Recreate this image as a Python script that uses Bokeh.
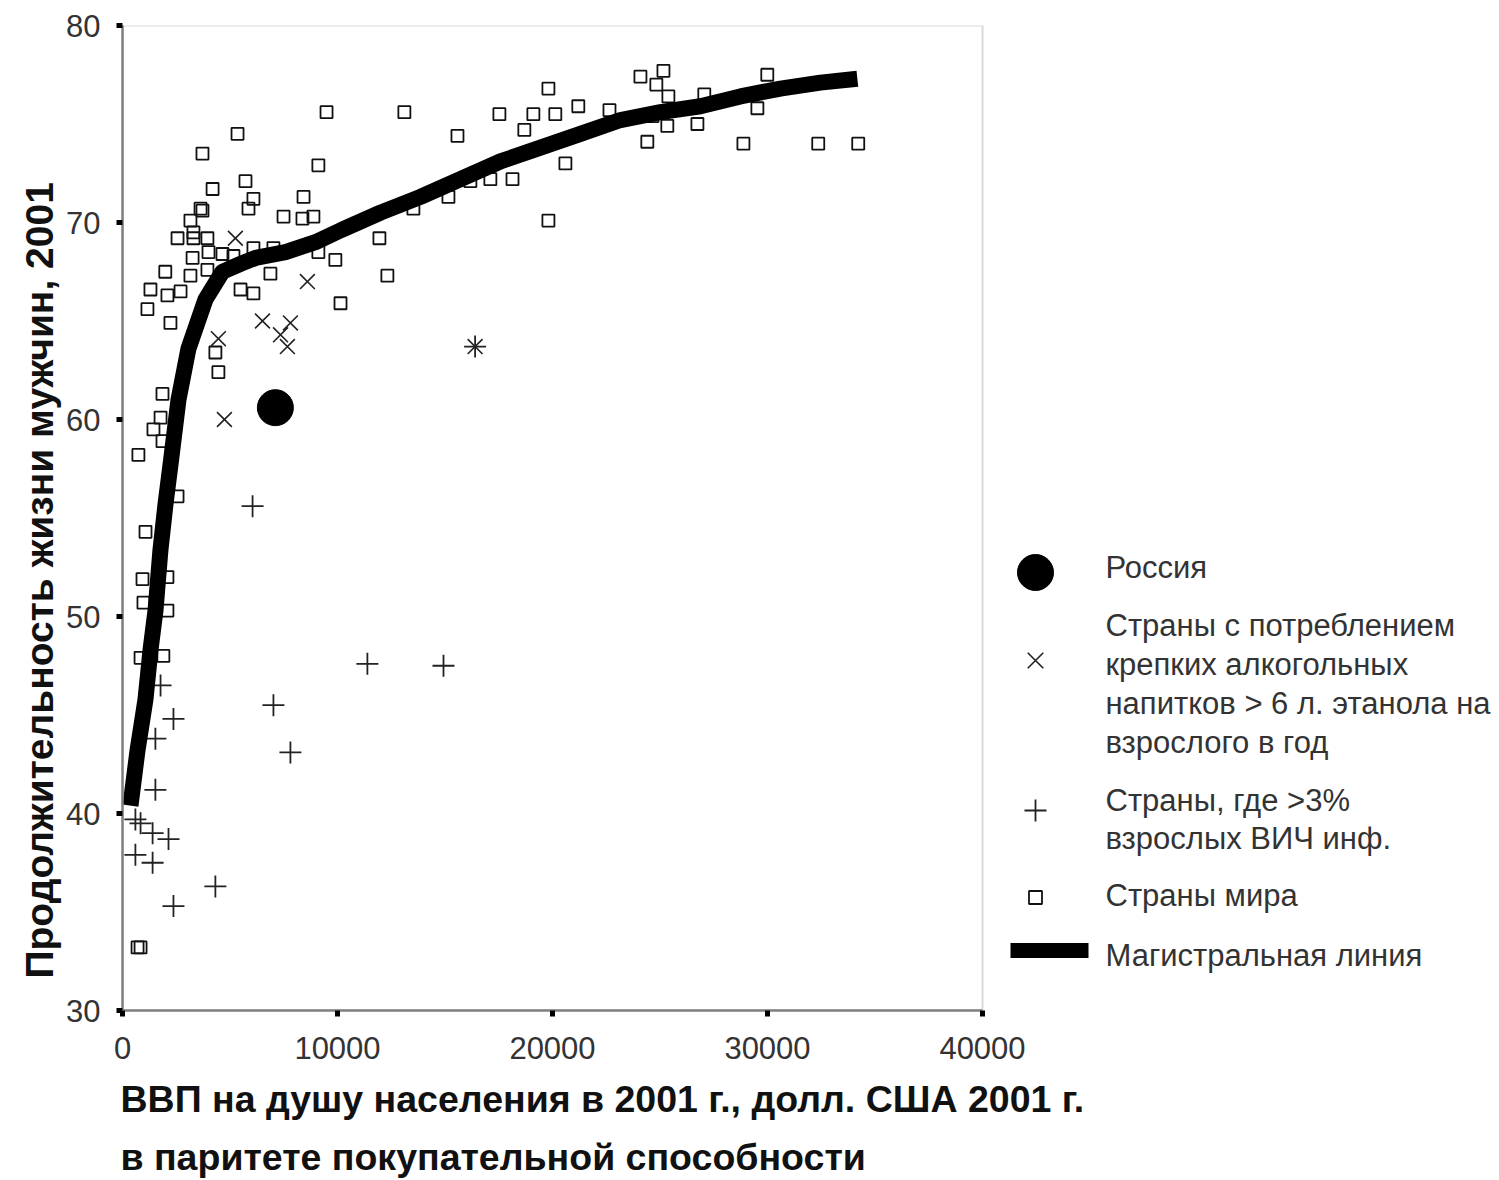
from bokeh.plotting import figure
from bokeh.models import Range1d, FixedTicker, NumeralTickFormatter, Title, BoxAnnotation
from bokeh.embed import file_html
from bokeh.resources import INLINE
from bokeh.core.properties import value

FONT = "Liberation Sans"

# ---- data (GDP per capita PPP, male life expectancy) ----
world_points = [
    (700, 33.2), (840, 33.2), (840, 47.9), (1900, 48.0), (975, 50.7), (930, 51.9),
    (2090, 52.0), (2090, 50.3), (1070, 54.3), (2560, 56.1), (740, 58.2), (1440, 59.5),
    (1770, 60.1), (1860, 61.3), (1860, 58.9), (1160, 65.6), (1300, 66.6), (2230, 64.9),
    (2090, 66.3), (2700, 66.5), (1990, 67.5), (3160, 67.3), (3950, 67.6), (2560, 69.2),
    (3300, 69.2), (3950, 69.2), (3720, 70.6), (3160, 70.1), (3720, 73.5), (4190, 71.7),
    (5350, 74.5), (5720, 72.1), (6090, 71.2), (5860, 70.7), (5490, 66.6), (6090, 66.4),
    (6090, 68.7), (7020, 68.7), (6880, 67.4), (7490, 70.3), (8370, 70.2), (8880, 70.3),
    (8420, 71.3), (9110, 68.5), (9110, 72.9), (9490, 75.6), (9900, 68.1), (10140, 65.9),
    (4320, 63.4), (4460, 62.4), (11950, 69.2), (12320, 67.3), (13530, 70.7), (13110, 75.6),
    (15160, 71.3), (15580, 74.4), (16180, 72.1), (17110, 72.2), (18140, 72.2), (17530, 75.5),
    (18690, 74.7), (19110, 75.5), (20130, 75.5), (19810, 76.8), (19810, 70.1), (20600, 73.0),
    (21200, 75.9), (22650, 75.7), (24090, 77.4), (25160, 77.7), (24830, 77.0), (25390, 76.4),
    (24180, 75.4), (24650, 75.4), (25340, 74.9), (24410, 74.1), (26740, 75.0), (27060, 76.5),
    (28880, 74.0), (29530, 75.8), (29990, 77.5), (32360, 74.0), (34220, 74.0), (4650, 68.4),
    (5160, 68.3), (3300, 69.5), (3630, 70.7), (4000, 68.5), (3260, 68.2),
]
alcohol_points = [
    (5250, 69.2), (8600, 67.0), (4460, 64.1), (6510, 65.0), (7810, 64.9),
    (7350, 64.3), (7670, 63.7), (4740, 60.0), (16400, 63.7),
]
hiv_points = [
    (16400, 63.7), (6050, 55.6), (11390, 47.6), (14930, 47.5), (7020, 45.5), (7810, 43.1),
    (2370, 44.8), (1530, 43.8), (1770, 46.5), (1530, 41.2), (600, 39.7), (840, 39.5),
    (1400, 39.0), (2140, 38.7), (600, 37.9), (1400, 37.5), (4320, 36.3), (2370, 35.3),
]
russia_x = [7110]
russia_y = [60.6]
trend_x = [372, 698, 1070, 1302, 1535, 1767, 2000, 2232, 2604, 3069, 3860, 4650, 5487,
           6185, 7580, 8975, 10140, 12000, 13860, 15720, 17580, 19440, 21300, 23160,
           25020, 26880, 28740, 30600, 32460, 34180]
trend_y = [40.4, 43.2, 45.8, 48.3, 50.3, 53.4, 55.7, 57.7, 61.0, 63.6, 66.1, 67.5, 67.9,
           68.2, 68.5, 69.0, 69.6, 70.5, 71.3, 72.2, 73.1, 73.8, 74.5, 75.2,
           75.6, 75.9, 76.4, 76.8, 77.1, 77.3]
x_ticks = [0, 10000, 20000, 30000, 40000]
y_ticks = [30, 40, 50, 60, 70, 80]
X_MIN, X_MAX = 0, 40000
Y_MIN, Y_MAX = 30, 80

legend_labels = [
    ["Россия"],
    ["Страны с потреблением", "крепких алкогольных", "напитков > 6 л. этанола на", "взрослого в год"],
    ["Страны, где >3%", "взрослых ВИЧ инф."],
    ["Страны мира"],
    ["Магистральная линия"],
]

y_label = "Продолжительность жизни мужчин, 2001"
x_label_1 = "ВВП на душу населения в 2001 г., долл. США 2001 г."
x_label_2 = "в паритете покупательной способности"

# ---- layout geometry (pixels) ----
W, H = 1499, 1180
B_LEFT, B_RIGHT, B_TOP, B_BOTTOM = 122, 2, 25, 170
PLOT_W = 860                      # width of the data box (0..40000)
FRAME_W = W - B_LEFT - B_RIGHT
FRAME_H = H - B_TOP - B_BOTTOM
x_end = X_MAX * FRAME_W / PLOT_W  # frame extends right to host the legend


def sx(px):   # page pixel -> data x (legend placement)
    return (px - B_LEFT) / PLOT_W * X_MAX


def sy(py):   # page pixel -> data y (legend placement)
    return Y_MAX - (py - B_TOP) / FRAME_H * (Y_MAX - Y_MIN)


p = figure(width=W, height=H, x_range=Range1d(X_MIN, x_end), y_range=Range1d(Y_MIN, Y_MAX),
           output_backend="svg", toolbar_location=None,
           min_border_left=B_LEFT, min_border_right=B_RIGHT,
           min_border_top=B_TOP, min_border_bottom=B_BOTTOM)
p.xgrid.visible = False
p.ygrid.visible = False
p.outline_line_color = None
p.background_fill_color = "white"

p.add_layout(BoxAnnotation(left=X_MIN, right=X_MAX, bottom=Y_MIN, top=Y_MAX,
                           fill_color=None, line_color="#7f7f7f", line_width=2))

p.xaxis.ticker = FixedTicker(ticks=x_ticks)
p.yaxis.ticker = FixedTicker(ticks=y_ticks)
p.xaxis.bounds = (X_MIN, X_MAX)
p.xaxis.formatter = NumeralTickFormatter(format="0")
for ax in (p.xaxis, p.yaxis):
    ax.axis_line_color = "#7f7f7f"
    ax.axis_line_width = 2.5
    ax.major_tick_line_color = "black"
    ax.major_tick_line_width = 5
    ax.major_tick_in = 0
    ax.major_tick_out = 6
    ax.minor_tick_in = 0
    ax.minor_tick_out = 0
    ax.major_label_text_font = FONT
    ax.major_label_text_font_size = "31px"
    ax.major_label_text_color = "#333333"
p.xaxis.major_label_standoff = 20
p.yaxis.major_label_standoff = 16

p.add_layout(Title(text=y_label, align="left", offset=32, text_font=FONT,
                   text_font_size="39px", text_font_style="bold", text_color="#111111",
                   standoff=6), "left")
p.add_layout(Title(text=x_label_1, align="left", offset=-2, text_font=FONT,
                   text_font_size="37.5px", text_font_style="bold", text_color="#111111",
                   standoff=28), "below")
p.add_layout(Title(text=x_label_2, align="left", offset=-2, text_font=FONT,
                   text_font_size="37.5px", text_font_style="bold", text_color="#111111",
                   standoff=0), "below")

wx = [a for a, b in world_points]
wy = [b for a, b in world_points]
ax_ = [a for a, b in alcohol_points]
ay_ = [b for a, b in alcohol_points]
hx = [a for a, b in hiv_points]
hy = [b for a, b in hiv_points]

p.scatter(wx, wy, marker="square", size=12, fill_color=None, line_color="#111111", line_width=1.8)
p.scatter(ax_, ay_, marker="x", size=21, line_color="#222222", line_width=1.6)
p.scatter(hx, hy, marker="cross", size=22, line_color="#222222", line_width=1.8)
p.scatter(russia_x, russia_y, marker="circle", size=36, color="black")
p.line(trend_x, trend_y, line_width=16, line_color="black", line_join="round")

# ---- legend (drawn in the right part of the frame) ----
KEY_X = 1035
p.scatter([sx(KEY_X)], [sy(572)], marker="circle", size=36, color="black")
p.scatter([sx(KEY_X)], [sy(660)], marker="x", size=22, line_color="#222222", line_width=1.6)
p.scatter([sx(KEY_X)], [sy(810)], marker="cross", size=22, line_color="#222222", line_width=1.8)
p.scatter([sx(KEY_X)], [sy(897)], marker="square", size=13, fill_color=None,
          line_color="#111111", line_width=1.8)
p.line([sx(1010), sx(1088)], [sy(950), sy(950)], line_width=15, line_color="black")

group_py = [[567], [625, 664, 703, 742], [800, 838], [895], [955]]
tx, ty, tt = [], [], []
for labels, ys in zip(legend_labels, group_py):
    for lab, yy in zip(labels, ys):
        tx.append(sx(1105))
        ty.append(sy(yy))
        tt.append(lab)
p.text(x=tx, y=ty, text=tt, text_font=value(FONT), text_font_size="31px",
       text_baseline="middle", text_align="left", text_color="#333333")

open("out.html", "w").write(file_html(p, INLINE))
